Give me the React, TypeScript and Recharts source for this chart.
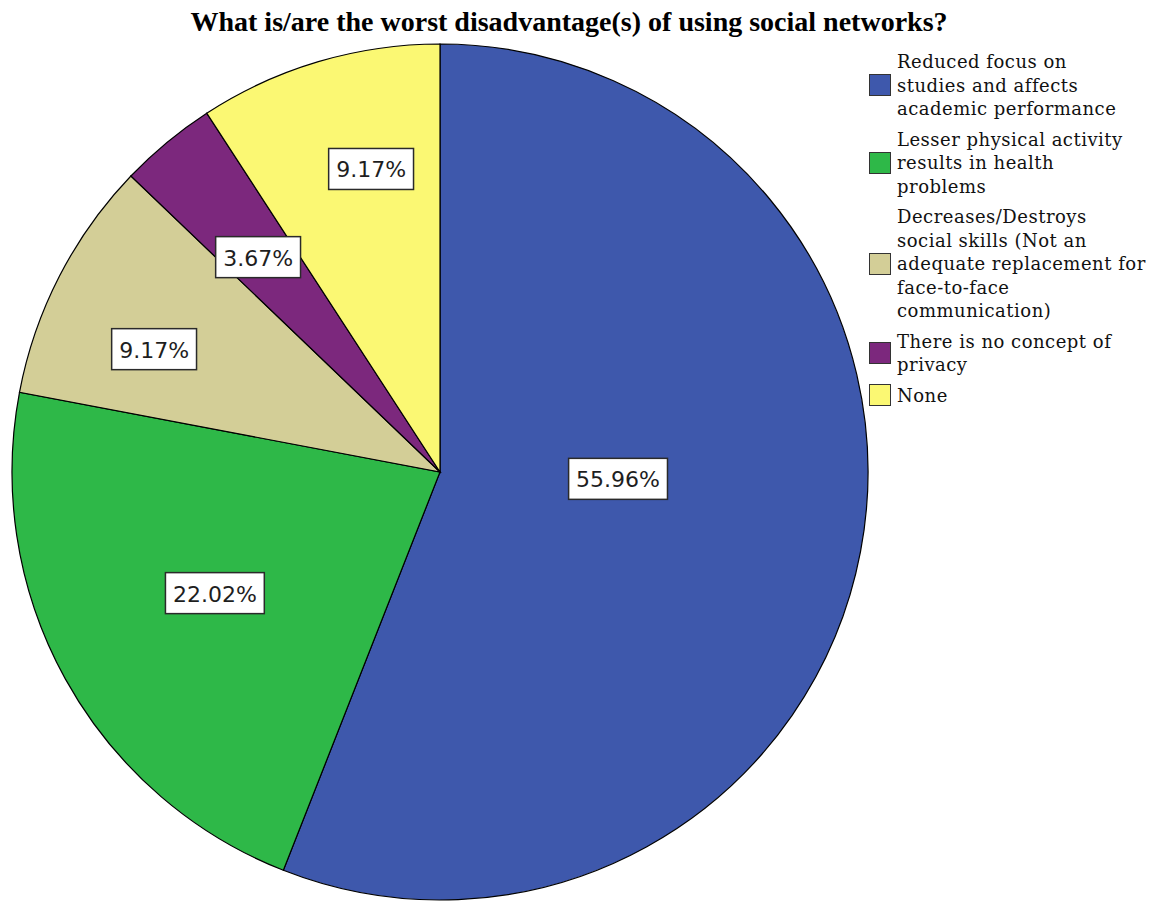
import { Cell, Legend, Pie, PieChart } from "recharts";

// survey answers, clockwise from 12 o'clock
const categories = [
  "Reduced focus on studies and affects academic performance",
  "Lesser physical activity results in health problems",
  "Decreases/Destroys social skills (Not an adequate replacement for face-to-face communication)",
  "There is no concept of privacy",
  "None",
];

// how the legend breaks each category onto lines
const legendLines = [
  ["Reduced focus on", "studies and affects", "academic performance"],
  ["Lesser physical activity", "results in health", "problems"],
  ["Decreases/Destroys", "social skills (Not an", "adequate replacement for", "face-to-face", "communication)"],
  ["There is no concept of", "privacy"],
  ["None"],
];

const counts = [61, 24, 10, 4, 10];

const colors = ["#3e58ac", "#2eb848", "#d3ce97", "#7c287d", "#fbf873"];

// where each percent box sits, as a fraction of the radius from the centre
const labelSpots: [number, number][] = [
  [0.416, 0.016],
  [-0.526, 0.283],
  [-0.668, -0.287],
  [-0.425, -0.502],
  [-0.161, -0.708],
];

const data = categories.map((name, i) => ({ name, value: counts[i] }));
const total = counts.reduce((a, b) => a + b, 0);

const glyphW = (s: string, size: number) =>
  s.split("").reduce((w, ch) => {
    if (ch === ".") return w + 0.318 * size;
    if (ch === "%") return w + 0.95 * size;
    return w + 0.636 * size;
  }, 0);

function PercentLabel(props: any) {
  const { cx, cy, outerRadius, index, value } = props;
  const [fx, fy] = labelSpots[index];
  const x = cx + fx * outerRadius;
  const y = cy + fy * outerRadius;
  const text = `${((value / total) * 100).toFixed(2)}%`;
  const size = 22;
  const w = glyphW(text, size) + 15;
  const h = 41;
  return (
    <g>
      <rect x={x - w / 2} y={y - h / 2} width={w} height={h} fill="#fff" stroke="#2a2a2a" strokeWidth={1.5} />
      <text
        x={x}
        y={y + 1}
        textAnchor="middle"
        dominantBaseline="central"
        fontFamily="DejaVu Sans, sans-serif"
        fontSize={size}
        fill="#1e1e1e"
      >
        {text}
      </text>
    </g>
  );
}

function SideLegend() {
  return (
    <div
      style={{
        fontFamily: "DejaVu Serif, serif",
        fontSize: 18,
        letterSpacing: 0.5,
        lineHeight: "23.5px",
        color: "#111",
      }}
    >
      {legendLines.map((lines, i) => (
        <div key={categories[i]} style={{ display: "flex", alignItems: "center", marginBottom: 7 }}>
          <div
            style={{
              width: 20,
              height: 20,
              background: colors[i],
              border: "1px solid #333",
              flex: "none",
              marginRight: 6,
            }}
          />
          <div style={{ whiteSpace: "nowrap" }}>
            {lines.map((l) => (
              <div key={l}>{l}</div>
            ))}
          </div>
        </div>
      ))}
    </div>
  );
}

export default function App() {
  return (
    <div style={{ position: "absolute", left: 0, top: 0, width: 1152, height: 902, background: "#fff" }}>
      <div
        style={{
          position: "absolute",
          left: 0,
          top: 8,
          width: 1138,
          textAlign: "center",
          fontFamily: "Liberation Serif, serif",
          fontWeight: 700,
          fontSize: 28,
          lineHeight: 1,
          color: "#000",
        }}
      >
        What is/are the worst disadvantage(s) of using social networks?
      </div>
      <PieChart width={1152} height={902} margin={{ top: 0, right: 0, bottom: 0, left: 0 }}>
        <Pie
          data={data}
          dataKey="value"
          nameKey="name"
          cx={440}
          cy={472}
          outerRadius={428}
          startAngle={90}
          endAngle={-270}
          stroke="#000"
          strokeWidth={1.2}
          label={PercentLabel}
          labelLine={false}
          isAnimationActive={false}
        >
          {data.map((d, i) => (
            <Cell key={d.name} fill={colors[i]} />
          ))}
        </Pie>
        <Legend
          content={() => <SideLegend />}
          wrapperStyle={{ position: "absolute", left: 869, top: 50, width: 283 }}
        />
      </PieChart>
    </div>
  );
}
